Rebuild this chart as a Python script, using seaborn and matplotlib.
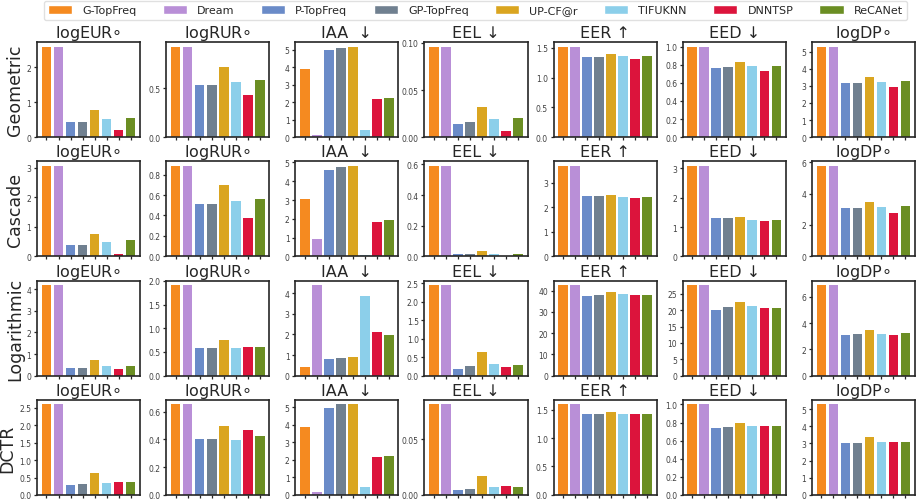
import pandas as pd
import matplotlib
matplotlib.use("Agg")
import matplotlib.pyplot as plt
from matplotlib.ticker import MultipleLocator
import seaborn as sns
from matplotlib.patches import Patch

methods = ["G-TopFreq", "Dream", "P-TopFreq", "GP-TopFreq", "UP-CF@r", "TIFUKNN", "DNNTSP", "ReCANet"]
colors = ["#f58a20", "#b98fd7", "#6a8bc8", "#708090", "#daa520", "#8ccfea", "#dc143c", "#6b8e23"]
metrics = [r"logEUR$\circ$", r"logRUR$\circ$", "IAA  ↓", "EEL ↓", "EER ↑", "EED ↓", r"logDP$\circ$"]
settings = ["Geometric", "Cascade", "Logarithmic", "DCTR"]

# one list per metric (same order as `metrics`), 8 values per method
geometric = [
    [2.59, 2.59, 0.43, 0.43, 0.77, 0.51, 0.20, 0.55],
    [0.925, 0.925, 0.53, 0.53, 0.714, 0.56, 0.43, 0.58],
    [3.87, 0.15, 4.95, 5.11, 5.17, 0.42, 2.17, 2.23],
    [0.0962, 0.0962, 0.0142, 0.0156, 0.0316, 0.0188, 0.006, 0.0199],
    [1.52, 1.52, 1.35, 1.35, 1.40, 1.367, 1.316, 1.367],
    [1.0, 1.0, 0.76, 0.77, 0.83, 0.78, 0.73, 0.78],
    [5.29, 5.29, 3.15, 3.15, 3.49, 3.2, 2.93, 3.26],
]
cascade = [
    [3.07, 3.07, 0.39, 0.39, 0.77, 0.50, 0.08, 0.54],
    [0.885, 0.885, 0.513, 0.513, 0.70, 0.545, 0.379, 0.565],
    [3.05, 0.91, 4.6, 4.77, 4.82, 0.09, 1.82, 1.93],
    [0.59, 0.59, 0.017, 0.017, 0.037, 0.017, 0.002, 0.017],
    [3.69, 3.69, 2.47, 2.47, 2.51, 2.43, 2.39, 2.43],
    [3.09, 3.09, 1.32, 1.32, 1.35, 1.25, 1.22, 1.25],
    [5.76, 5.76, 3.10, 3.10, 3.48, 3.17, 2.78, 3.23],
]
logarithmic = [
    [4.19, 4.19, 0.34, 0.34, 0.72, 0.44, 0.33, 0.44],
    [1.91, 1.91, 0.59, 0.59, 0.757, 0.59, 0.61, 0.61],
    [0.42, 4.39, 0.81, 0.86, 0.90, 3.86, 2.11, 1.97],
    [2.45, 2.45, 0.18, 0.26, 0.64, 0.32, 0.24, 0.29],
    [42.6, 42.6, 37.5, 37.9, 39.3, 38.4, 37.9, 37.9],
    [27.7, 27.7, 20.05, 21.0, 22.5, 21.3, 20.7, 20.7],
    [6.9, 6.9, 3.09, 3.17, 3.47, 3.17, 3.09, 3.24],
]
dctr = [
    [2.6, 2.6, 0.285, 0.31, 0.63, 0.34, 0.37, 0.37],
    [0.652, 0.652, 0.40, 0.40, 0.50, 0.393, 0.471, 0.421],
    [3.9, 0.17, 4.98, 5.17, 5.17, 0.45, 2.15, 2.21],
    [0.0814, 0.0814, 0.0042, 0.0051, 0.0168, 0.0069, 0.0078, 0.0069],
    [1.59, 1.59, 1.413, 1.413, 1.465, 1.413, 1.43, 1.43],
    [1.0, 1.0, 0.735, 0.745, 0.80, 0.756, 0.756, 0.756],
    [5.27, 5.27, 3.0, 3.0, 3.35, 3.06, 3.06, 3.06],
]

# y tick spacing per panel, as in the original figure
tick_steps = [
    [1, 0.5, 1, 0.05, 0.5, 0.2, 1],
    [1, 0.2, 1, 0.2, 1, 1, 2],
    [1, 0.5, 1, 0.5, 10, 5, 2],
    [0.5, 0.2, 1, 0.05, 0.5, 0.2, 1],
]

sns.set_style("ticks")
plt.rcParams["font.family"] = ["DejaVu Sans"]

palette = dict(zip(methods, colors))

fig, axes = plt.subplots(4, 7, figsize=(9.18, 5.02), dpi=100)
fig.subplots_adjust(left=0.0403, right=0.9967, top=0.9143, bottom=0.012,
                    wspace=0.252, hspace=0.254)

for i, rows in enumerate([geometric, cascade, logarithmic, dctr]):
    for j, vals in enumerate(rows):
        ax = axes[i, j]
        df = pd.DataFrame({"method": methods, "value": vals})
        sns.barplot(data=df, x="method", y="value", hue="method", palette=palette,
                    saturation=1, width=0.8, linewidth=0, legend=False, ax=ax)
        ax.set_xlim(-0.79, 7.79)
        ax.set_ylim(0, max(vals) * 1.05)
        ax.yaxis.set_major_locator(MultipleLocator(tick_steps[i][j]))
        ax.set_xticks(range(len(methods)))
        ax.set_xticklabels([])
        ax.set_xlabel("")
        ax.set_ylabel("")
        ax.set_title(metrics[j], fontsize=11.5, pad=3.5)
        ax.tick_params(labelsize=5.5, length=2.5, width=0.9, pad=1.5,
                       labelcolor="0.25")
        for s in ax.spines.values():
            s.set_linewidth(1.2)

    # row label sits left of the first panel's tick labels
    axes[i, 0].set_ylabel(settings[i], fontsize=12.5, labelpad=2)

handles = [Patch(facecolor=c, label=m) for m, c in zip(methods, colors)]
fig.legend(handles=handles, loc="upper center", bbox_to_anchor=(0.518, 1.0),
           ncol=8, fontsize=8, handlelength=2.2, handleheight=0.85,
           handletextpad=0.9, columnspacing=2.35, frameon=True,
           borderaxespad=0.15, edgecolor="0.85")

fig.savefig("out.png", dpi=100)
